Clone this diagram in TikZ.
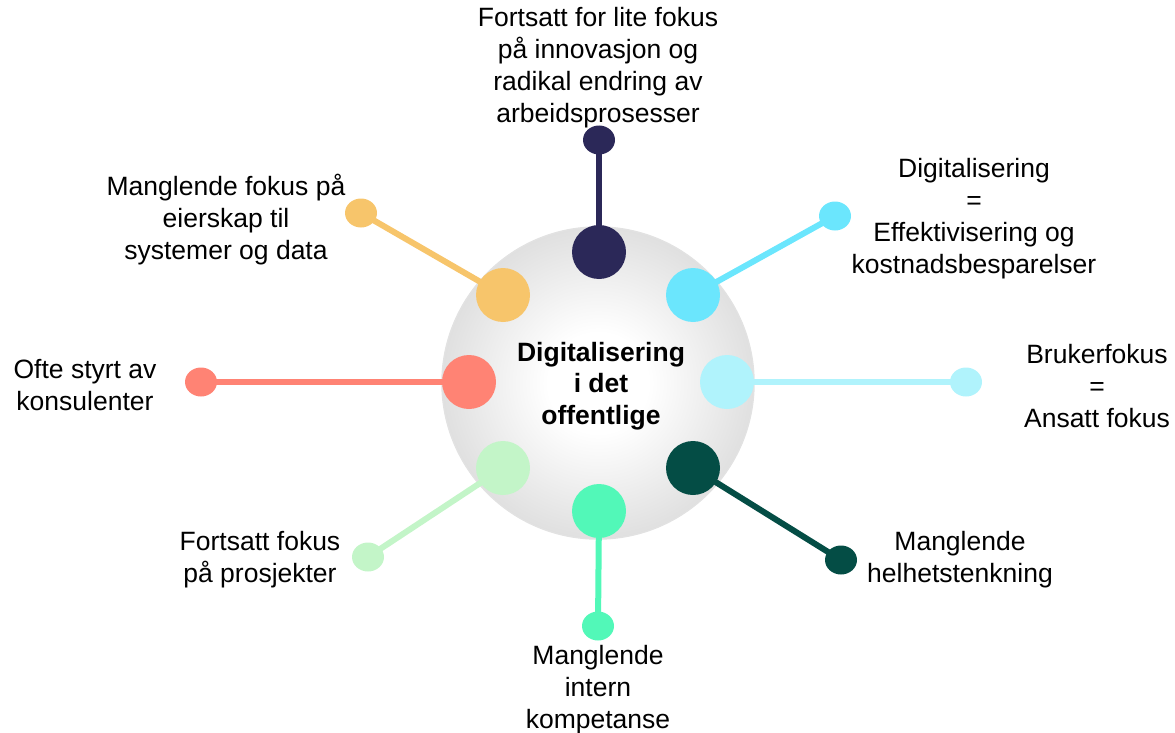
\documentclass[tikz,border=0pt]{standalone}
\usepackage{fontspec}
\setmainfont{Liberation Sans}
\usetikzlibrary{shapes.geometric}
\definecolor{cnavy}{HTML}{2B2858}
\definecolor{cyellow}{HTML}{F7C56B}
\definecolor{ccyan}{HTML}{6BE6FD}
\definecolor{csalmon}{HTML}{FF8374}
\definecolor{clcyan}{HTML}{B0F3FC}
\definecolor{clgreen}{HTML}{C3F5C8}
\definecolor{cdgreen}{HTML}{044D45}
\definecolor{cmint}{HTML}{52F8B8}
\definecolor{sphgray}{HTML}{B4B4B4}
\definecolor{sphrim}{HTML}{E2E2E2}
\pgfdeclareradialshading{sphereshade}{\pgfpoint{0bp}{0bp}}{color(0bp)=(white); color(8bp)=(white); color(49bp)=(sphgray); color(50bp)=(sphgray)}
\pgfdeclarelayer{back}
\pgfdeclarelayer{lines}
\pgfsetlayers{back,lines,main}
\begin{document}
\begin{tikzpicture}[x=1pt,y=-1pt,
  dot/.style={circle,inner sep=0pt,minimum size=54pt},
  odot/.style={ellipse,inner sep=0pt,minimum width=32pt,minimum height=29pt},
  conn/.style={line width=6pt},
  lbl/.style={font=\fontsize{26.5}{32}\selectfont,align=center,inner sep=0pt},
  ctext/.style={font=\fontsize{26.5}{31.5}\selectfont\bfseries,align=center,inner sep=0pt}]
\useasboundingbox (0,0) rectangle (1175,733);
\begin{pgfonlayer}{back}
\node[circle,inner sep=0pt,minimum size=312pt,shading=sphereshade,draw=sphrim,line width=1.5pt] (sphere) at (598,383) {};
\end{pgfonlayer}
% inner dots
\node[dot,fill=cnavy] (i1) at (599,252) {};
\node[dot,fill=cyellow] (i2) at (503,295) {};
\node[dot,fill=ccyan] (i3) at (693,295) {};
\node[dot,fill=csalmon] (i4) at (469,382) {};
\node[dot,fill=clcyan] (i5) at (727,382) {};
\node[dot,fill=clgreen] (i6) at (503,468) {};
\node[dot,fill=cdgreen] (i7) at (693,468) {};
\node[dot,fill=cmint] (i8) at (599,511) {};
% outer dots
\node[odot,fill=cnavy] (o1) at (599,140) {};
\node[odot,fill=cyellow] (o2) at (361,213) {};
\node[odot,fill=ccyan] (o3) at (835,216) {};
\node[odot,fill=csalmon] (o4) at (201,382) {};
\node[odot,fill=clcyan] (o5) at (966,382) {};
\node[odot,fill=clgreen] (o6) at (368,557) {};
\node[odot,fill=cdgreen] (o7) at (841,560) {};
\node[odot,fill=cmint] (o8) at (598,626) {};
\begin{pgfonlayer}{lines}
\draw[conn,cnavy] (i1.center) -- (o1.center);
\draw[conn,cyellow] (i2.center) -- (o2.center);
\draw[conn,ccyan] (i3.center) -- (o3.center);
\draw[conn,csalmon] (i4.center) -- (o4.center);
\draw[conn,clcyan] (i5.center) -- (o5.center);
\draw[conn,clgreen] (i6.center) -- (o6.center);
\draw[conn,cdgreen] (i7.center) -- (o7.center);
\draw[conn,cmint] (i8.center) -- (o8.center);
\end{pgfonlayer}
% texts
\node[ctext] (center) at (601,386) {Digitalisering\\i det\\offentlige};
\node[lbl] (t1) at (598,68) {Fortsatt for lite fokus\\på innovasjon og\\radikal endring av\\arbeidsprosesser};
\node[lbl] (t2) at (226,220) {Manglende fokus på\\eierskap til\\systemer og data};
\node[lbl] (t3) at (974,219) {Digitalisering\\=\\Effektivisering og\\kostnadsbesparelser};
\node[lbl] (t4) at (85,385) {Ofte styrt av\\konsulenter};
\node[lbl] (t5) at (1097,386) {Brukerfokus\\=\\Ansatt fokus};
\node[lbl] (t6) at (260,560) {Fortsatt fokus\\på prosjekter};
\node[lbl] (t7) at (960,560) {Manglende\\helhetstenkning};
\node[lbl] (t8) at (598,690) {Manglende\\intern\\kompetanse};
\end{tikzpicture}
\end{document}
